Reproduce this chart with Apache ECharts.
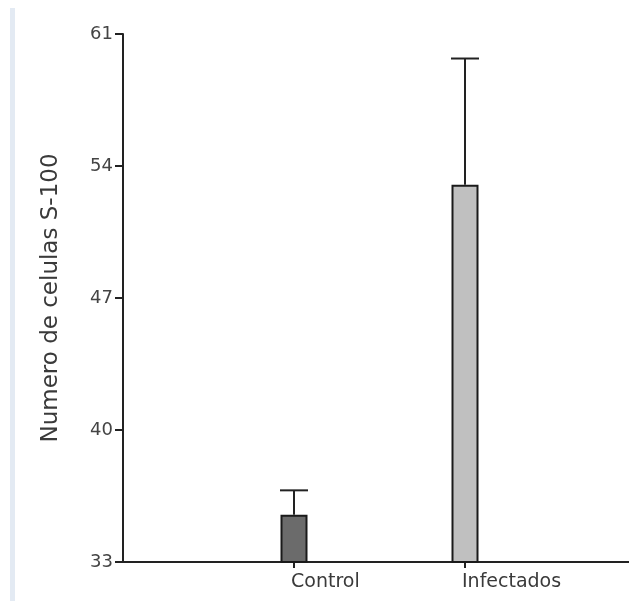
<!DOCTYPE html>
<html>
<head>
<meta charset="utf-8">
<script src="https://cdn.jsdelivr.net/npm/echarts@6/dist/echarts.min.js"></script>
<style>
    html, body { margin: 0; padding: 0; background: #fff; overflow: hidden; }
    #chart1 { width: 629px; height: 601px; }
    .strip { position: absolute; left: 10px; top: 8px; width: 5px; height: 593px; background: #e3eaf3; }
</style>
</head>
<body>
<div class="strip"></div>
<div id="chart1"></div>
<script>
    // categories: the first and last are empty slots so the groups sit where they do
    var categories = ['', 'Control', 'Infectados', ''];
    var means = ['-', 35.5, 53.0, '-'];
    var errUp = ['-', 1.3, 6.7, '-'];
    var yTicks = [33, 40, 47, 54, 61];
    var barColors = ['#6b6b6b', '#c0c0c0'];

    var chart1 = echarts.init(document.getElementById('chart1'));

    var barData = means.map(function (v, i) {
        if (v === '-') return '-';
        return {value: v, itemStyle: {color: barColors[i - 1]}};
    });
    var errData = [];
    means.forEach(function (v, i) {
        if (v !== '-') errData.push([i, v, v + errUp[i]]);
    });

    var font = 'DejaVu Sans';

    var option = {
        animation: false,
        grid: {left: 123, width: 513, top: 34, bottom: 39, outerBoundsMode: 'none', containLabel: false},
        xAxis: {
            type: 'category',
            data: categories,
            boundaryGap: false,
            axisLine: {lineStyle: {color: '#222', width: 2}},
            axisTick: {
                length: 6,
                lineStyle: {color: '#222', width: 2},
                interval: function (idx, val) { return val !== ''; }
            },
            axisLabel: {
                color: '#3a3a3a', fontSize: 19, fontFamily: font, margin: 11,
                interval: 0, align: 'left', padding: [0, 0, 0, -3]
            }
        },
        yAxis: {
            type: 'value',
            min: yTicks[0],
            max: yTicks[yTicks.length - 1],
            interval: 7,
            name: 'Numero de celulas S-100',
            nameLocation: 'middle',
            nameGap: 60,
            nameTextStyle: {color: '#3a3a3a', fontSize: 23, fontFamily: font},
            splitLine: {show: false},
            axisLine: {show: true, lineStyle: {color: '#222', width: 2}},
            axisTick: {show: true, length: 8, lineStyle: {color: '#222', width: 2}},
            axisLabel: {color: '#444', fontSize: 18, fontFamily: font, margin: 10}
        },
        series: [
            {
                type: 'bar',
                data: barData,
                barWidth: 27,
                itemStyle: {borderColor: '#1a1a1a', borderWidth: 2}
            },
            {
                type: 'custom',
                data: errData,
                z: 5,
                renderItem: function (params, api) {
                    var base = api.coord([api.value(0), api.value(1)]);
                    var top = api.coord([api.value(0), api.value(2)]);
                    var half = 14;
                    var st = {stroke: '#222', lineWidth: 2};
                    return {
                        type: 'group',
                        children: [
                            {type: 'line', shape: {x1: base[0], y1: base[1], x2: top[0], y2: top[1]}, style: st},
                            {type: 'line', shape: {x1: top[0] - half, y1: top[1], x2: top[0] + half, y2: top[1]}, style: st}
                        ]
                    };
                }
            }
        ]
    };

    chart1.setOption(option);
    window.addEventListener('resize', function () {
        chart1.resize();
    });
</script>
</body>
</html>
